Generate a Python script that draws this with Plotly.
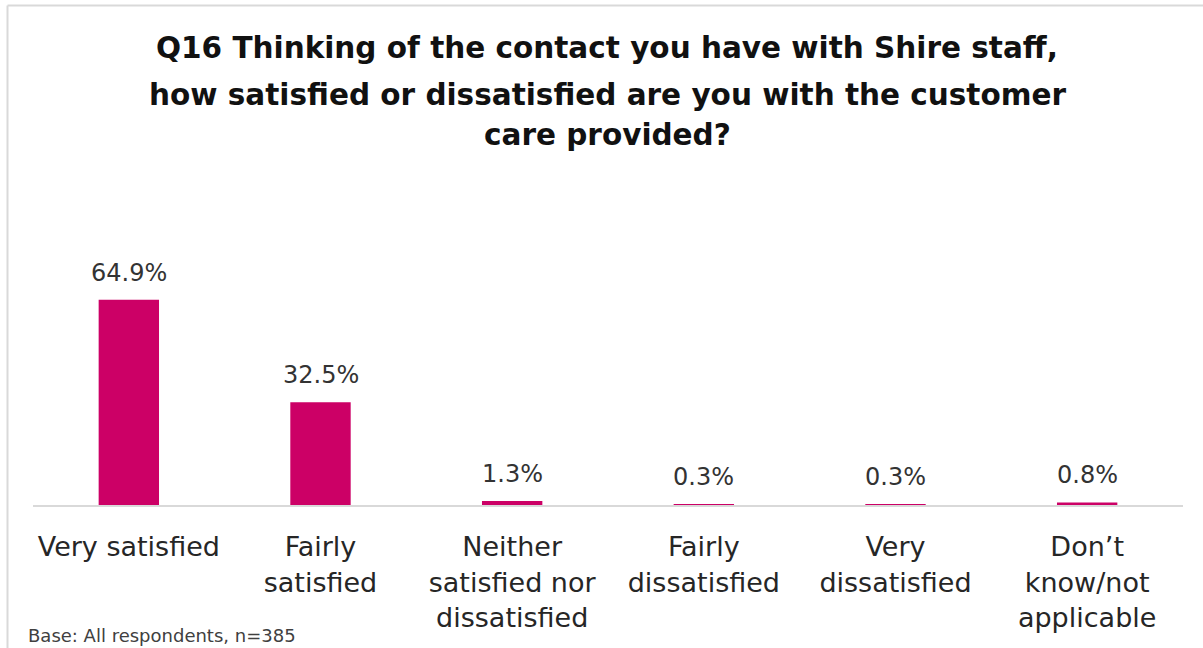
import plotly.graph_objects as go

categories = [
    "Very satisfied",
    "Fairly<br>satisfied",
    "Neither<br>satisfied nor<br>dissatisfied",
    "Fairly<br>dissatisfied",
    "Very<br>dissatisfied",
    "Don\u2019t<br>know/not<br>applicable",
]
values = [64.9, 32.5, 1.3, 0.3, 0.3, 0.8]
value_labels = ["64.9%", "32.5%", "1.3%", "0.3%", "0.3%", "0.8%"]
title_lines = [
    "Q16 Thinking of the contact you have with Shire staff,",
    "how satisfied or dissatisfied are you with the customer",
    "care provided?",
]
footnote = "Base: All respondents, n=385"

W, H = 1203, 648
ML, MR, MT, MB = 33, 20, 230, 143
PW, PH = W - ML - MR, H - MT - MB
Y_MAX = 87.0

BAR = "#CC0066"
TXT = "#262626"
FONT = "DejaVu Sans, Liberation Sans, sans-serif"


def px_x(px):
    return (px - ML) / PW


def px_y(py):
    return (H - MB - py) / PH


fig = go.Figure(
    go.Bar(
        x=categories,
        y=values,
        marker=dict(color=BAR, line=dict(width=0)),
        width=0.315,
        hoverinfo="skip",
    )
)

annotations = []
for c, v, t in zip(categories, values, value_labels):
    annotations.append(dict(
        x=c, y=v, xref="x", yref="y", text=t, showarrow=False,
        yanchor="bottom", yshift=11,
        font=dict(family=FONT, size=24, color="#333333"),
    ))

for i, line in enumerate(title_lines):
    annotations.append(dict(
        x=px_x(607), y=px_y([48, 95, 135][i]), xref="paper", yref="paper",
        text="<b>" + line + "</b>", showarrow=False,
        xanchor="center", yanchor="middle",
        font=dict(family=FONT, size=29.5, color="#111111"),
    ))

annotations.append(dict(
    x=px_x(26), y=px_y(635), xref="paper", yref="paper",
    text=footnote, showarrow=False, xanchor="left", yanchor="middle",
    font=dict(family=FONT, size=18, color="#404040"),
))

shapes = [
    dict(type="line", xref="paper", yref="paper",
         x0=px_x(7.5), x1=px_x(1203), y0=px_y(5.5), y1=px_y(5.5),
         line=dict(color="#d9d9d9", width=2)),
    dict(type="line", xref="paper", yref="paper",
         x0=px_x(7.5), x1=px_x(7.5), y0=px_y(5.5), y1=px_y(648),
         line=dict(color="#d9d9d9", width=2)),
]

fig.update_layout(
    width=W, height=H,
    margin=dict(l=ML, r=MR, t=MT, b=MB),
    paper_bgcolor="white", plot_bgcolor="white",
    showlegend=False,
    annotations=annotations,
    shapes=shapes,
    font=dict(family=FONT, color=TXT),
    xaxis=dict(
        showline=True, linecolor="#d9d9d9", linewidth=2,
        showgrid=False, ticks="", ticklabelstandoff=17,
        tickfont=dict(family=FONT, size=27, color=TXT),
    ),
    yaxis=dict(range=[0, Y_MAX], visible=False, showgrid=False),
)

fig.write_html("out.html")
